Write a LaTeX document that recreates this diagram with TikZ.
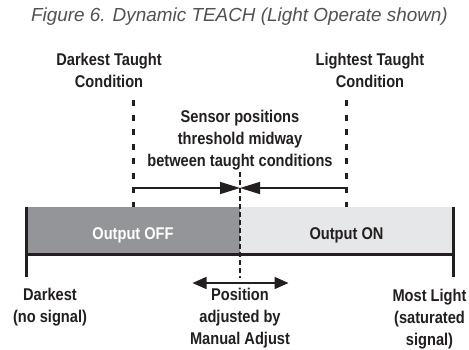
\documentclass[tikz,border=0pt]{standalone}
\usepackage{fontspec}
\setmainfont{Liberation Sans}
\newfontfamily\narrowb[FakeStretch=0.86]{Liberation Sans Bold}
\usetikzlibrary{arrows.meta}
\definecolor{darkfill}{HTML}{939598}
\definecolor{lightfill}{HTML}{E6E7E8}
\definecolor{ink}{HTML}{231F20}
\tikzset{x=1pt,y=-1pt,
 lbl/.style={font=\narrowb\fontsize{17}{22}\selectfont,align=center,inner sep=0pt,text=ink},
 figcap/.style={font=\itshape\fontsize{18.9}{22}\selectfont,inner sep=0pt,text=black!68},
 thick dash/.style={line width=3pt,dash pattern=on 6pt off 8.5pt,ink},
 thin dash/.style={line width=1.6pt,dash pattern=on 4.5pt off 3.5pt,ink},
 barline/.style={line width=3pt,ink},
 tipa/.style={-{Triangle[length=20pt,width=12pt]},line width=1.5pt,ink},
 tipb/.style={{Triangle[length=14pt,width=12pt]}-{Triangle[length=14pt,width=12pt]},line width=1.5pt,ink},
}
\begin{document}
\begin{tikzpicture}
\useasboundingbox (0,0) rectangle (469,349);
\fill[white] (0,0) rectangle (469,349);
\fill[darkfill] (26.5,207) rectangle (240,254);
\fill[lightfill] (240,207) rectangle (453,254);
\node[figcap] (title) at (239.5,17) {Figure 6. Dynamic TEACH (Light Operate shown)};
\node[lbl] (dark) at (109,70) {Darkest Taught\\Condition};
\node[lbl] (light) at (370,70) {Lightest Taught\\Condition};
\node[lbl] (mid) at (240,140) {Sensor positions\\threshold midway\\between taught conditions};
\node[lbl,text=white] (off) at (133,235) {Output OFF};
\node[lbl] (on) at (346.5,235) {Output ON};
\node[lbl] (d2) at (50,307.5) {Darkest\\(no signal)};
\node[lbl] (pos) at (240,318.5) {Position\\adjusted by\\Manual Adjust};
\node[lbl] (ml) at (429.5,319) {Most Light\\(saturated\\signal)};
\coordinate (dl0) at (133,100); \coordinate (dl1) at (133,207);
\coordinate (dr0) at (346.7,100); \coordinate (dr1) at (346.7,207);
\coordinate (dl) at (133,188); \coordinate (dr) at (346.7,188); \coordinate (c) at (240,188);
\coordinate (c0) at (240,172); \coordinate (c1) at (240,278);
\coordinate (a0) at (192.5,283); \coordinate (a1) at (288.5,283);
\coordinate (b0) at (26.5,207); \coordinate (b1) at (26.5,277);
\coordinate (e0) at (453,207); \coordinate (e1) at (453,277);
\coordinate (f0) at (26.5,254); \coordinate (f1) at (453,254);
\draw[thick dash] (dl0)--(dl1);
\draw[thick dash] (dr0)--(dr1);
\draw[thin dash] (c0)--(c1);
\draw[barline] (b0)--(b1);
\draw[barline] (e0)--(e1);
\draw[barline] (f0)--(f1);
\draw[tipa] (dl)--(c);
\draw[tipa] (dr)--(c);
\draw[tipb] (a0)--(a1);
\end{tikzpicture}
\end{document}
